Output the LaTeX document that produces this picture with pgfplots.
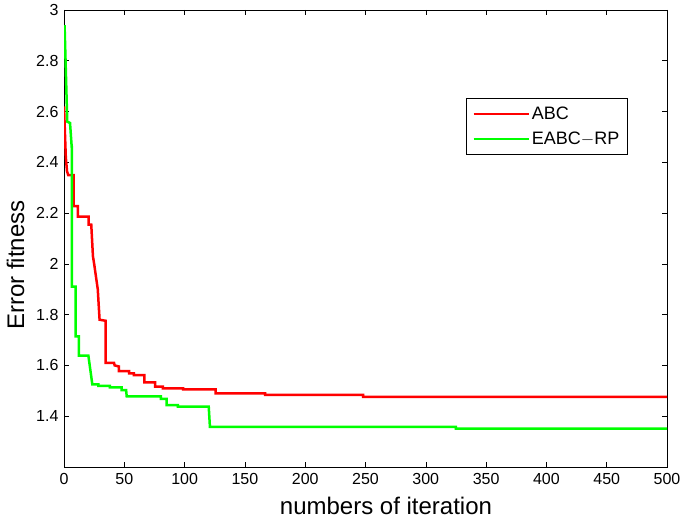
\documentclass[border=0pt]{standalone}
\usepackage{pgfplots}
\pgfplotsset{compat=1.18}
\usepackage{fontspec}
\setmainfont{Liberation Sans}
\begin{document}
\begin{tikzpicture}
\useasboundingbox (-64pt,-59pt) rectangle (621pt,467pt);
\begin{axis}[
  scale only axis,
  width=603pt, height=457pt,
  xmin=0, xmax=500, ymin=1.2, ymax=3,
  xtick={0,50,...,500},
  ytick={1.4,1.6,1.8,2,2.2,2.4,2.6,2.8,3},
  yticklabels={1.4,1.6,1.8,2,2.2,2.4,2.6,2.8,3},
  /pgf/number format/assume math mode=true,
  tick label style={font=\fontsize{16}{18}\selectfont},
  xticklabel style={yshift=-3pt},
  yticklabel style={xshift=-2pt},
  label style={font=\fontsize{24}{28}\selectfont},
  xlabel={numbers of iteration},
  ylabel={Error fitness},
  xlabel style={at={(ticklabel cs:0.534,5pt)}},
  ylabel style={at={(ticklabel cs:0.442,5pt)}},
  major tick length=5pt,
  tick style={black, line width=0.6pt},
  axis line style={line width=0.8pt},
  legend style={at={(0.935,0.807)}, anchor=north east, font=\fontsize{18}{20}\selectfont,
    draw=black, line width=0.8pt, inner xsep=6pt, inner ysep=6.5pt, row sep=7pt},
  legend cell align=left,
  legend image code/.code={\draw[#1, line width=2.5pt] (0pt,0pt) -- (55pt,0pt);},
]
\addplot[red, line width=2.5pt] coordinates {
(0,2.62)(1.5,2.42)(2.5,2.365)(3.5,2.35)(8,2.35)(8,2.227)(11.6,2.227)(11.6,2.186)(20.5,2.186)(20.5,2.155)(22.6,2.155)(24,2.03)(25,2.0)(28,1.90)(29.5,1.78)(34.5,1.776)(34.5,1.61)(41.5,1.61)(42,1.60)(45.5,1.596)(45.5,1.578)(54,1.578)(54,1.569)(58,1.569)(58,1.562)(66.6,1.562)(66.6,1.533)(75.5,1.533)(75.5,1.517)(82,1.517)(82,1.51)(98.7,1.51)(98.7,1.506)(125.8,1.506)(125.8,1.49)(166.7,1.49)(166.7,1.484)(248,1.484)(248,1.476)(500,1.476)
};
\addlegendentry{ABC}
\addplot[green, line width=2.5pt] coordinates {
(0,2.935)(0.5,2.935)(2.7,2.56)(5,2.555)(6.4,2.46)(6.6,2.46)(6.6,1.91)(9.7,1.91)(9.7,1.714)(12.4,1.714)(12.4,1.639)(20.2,1.639)(23.5,1.525)(28.5,1.525)(28.5,1.52)(38,1.52)(38,1.514)(47.8,1.514)(47.8,1.503)(51.5,1.503)(52,1.478)(80.4,1.478)(80.4,1.468)(85,1.468)(85,1.444)(94.5,1.444)(94.5,1.438)(120,1.438)(121,1.358)(325,1.358)(325,1.351)(500,1.351)
};
\addlegendentry{EABC$-$RP}
\end{axis}
\end{tikzpicture}
\end{document}
